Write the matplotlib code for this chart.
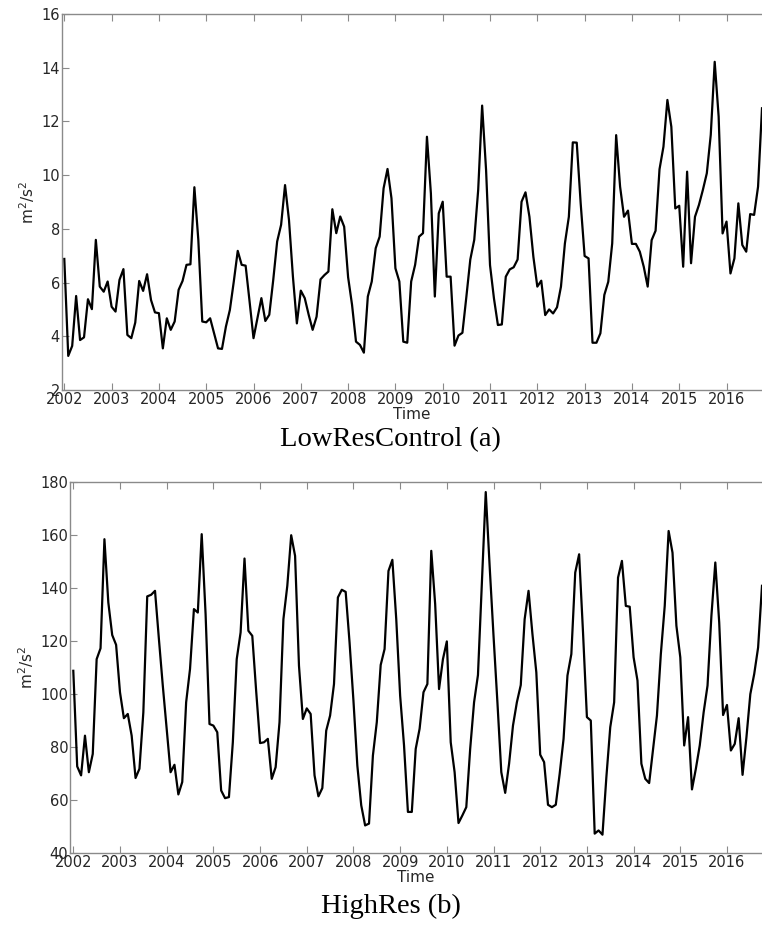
import numpy as np
import matplotlib
matplotlib.use('Agg')
import matplotlib.pylab as plt

# monthly means, Jan 2002 .. Oct 2016
low_res = [6.88, 3.27, 3.64, 5.50, 3.86, 3.96, 5.38, 5.01, 7.59, 5.85, 5.66, 6.04,
           5.10, 4.92, 6.10, 6.50, 4.05, 3.93, 4.51, 6.06, 5.69, 6.31, 5.35, 4.89,
           4.86, 3.55, 4.67, 4.24, 4.55, 5.73, 6.06, 6.66, 6.68, 9.55, 7.59, 4.55,
           4.52, 4.67, 4.11, 3.55, 3.53, 4.36, 4.98, 6.04, 7.18, 6.66, 6.63, 5.30,
           3.93, 4.67, 5.42, 4.57, 4.80, 6.09, 7.53, 8.15, 9.63, 8.33, 6.22, 4.48,
           5.70, 5.42, 4.80, 4.24, 4.73, 6.12, 6.28, 6.41, 8.73, 7.84, 8.46, 8.08,
           6.20, 5.17, 3.80, 3.68, 3.39, 5.48, 6.04, 7.28, 7.71, 9.51, 10.23, 9.14,
           6.53, 6.04, 3.80, 3.76, 6.04, 6.66, 7.71, 7.84, 11.43, 9.32, 5.48, 8.58,
           9.01, 6.22, 6.22, 3.65, 4.03, 4.13, 5.47, 6.86, 7.59, 9.45, 12.59, 10.19,
           6.65, 5.41, 4.42, 4.44, 6.22, 6.49, 6.57, 6.86, 9.01, 9.36, 8.45, 6.96,
           5.85, 6.07, 4.79, 5.00, 4.85, 5.08, 5.85, 7.46, 8.45, 11.22, 11.21, 8.95,
           6.99, 6.90, 3.76, 3.76, 4.11, 5.54, 6.03, 7.46, 11.49, 9.57, 8.45, 8.68,
           7.44, 7.44, 7.15, 6.59, 5.85, 7.58, 7.93, 10.22, 11.06, 12.80, 11.80, 8.76,
           8.86, 6.59, 10.13, 6.72, 8.45, 8.89, 9.45, 10.07, 11.50, 14.22, 12.18, 7.83,
           8.27, 6.34, 6.90, 8.95, 7.40, 7.15, 8.55, 8.52, 9.57, 12.49]

high_res = [108.7, 72.6, 69.2, 84.2, 70.4, 77.3, 113.1, 117.2, 158.4, 134.5, 122.2, 118.5,
            100.6, 90.8, 92.4, 84.2, 68.2, 71.7, 93.0, 136.8, 137.4, 138.9, 120.7, 103.1,
            86.8, 70.4, 73.2, 62.0, 66.7, 96.8, 109.4, 132.0, 130.7, 160.3, 130.1, 88.6,
            88.0, 85.5, 63.5, 60.6, 61.0, 81.7, 113.1, 123.2, 151.1, 123.8, 121.9, 101.0,
            81.4, 81.7, 83.0, 67.9, 72.3, 89.3, 128.2, 140.8, 159.9, 152.1, 110.6, 90.5,
            94.5, 92.4, 69.2, 61.3, 64.4, 86.1, 91.8, 103.7, 136.4, 139.3, 138.5, 119.4,
            97.4, 72.9, 57.9, 50.3, 51.0, 76.7, 89.3, 110.9, 116.9, 146.4, 150.6, 128.2,
            99.3, 80.5, 55.4, 55.4, 79.2, 86.8, 100.6, 103.7, 154.0, 133.9, 101.8, 113.1,
            119.8, 81.7, 70.4, 51.2, 54.1, 57.2, 79.2, 96.8, 107.1, 142.0, 176.2, 148.3,
            121.9, 96.8, 70.4, 62.6, 73.6, 88.0, 96.8, 103.3, 128.2, 138.9, 122.6, 108.1,
            77.0, 74.2, 58.1, 57.2, 58.1, 69.8, 83.0, 106.9, 115.0, 145.8, 152.7, 123.2,
            91.2, 89.9, 47.2, 48.4, 46.8, 68.5, 87.4, 96.8, 143.9, 150.2, 133.2, 132.9,
            113.8, 105.0, 73.6, 67.9, 66.3, 79.2, 91.8, 115.0, 133.2, 161.5, 153.3, 125.7,
            113.8, 80.5, 91.2, 63.9, 71.7, 80.5, 93.0, 103.1, 129.5, 149.6, 127.0, 92.0,
            95.8, 78.6, 81.1, 90.8, 69.4, 83.6, 99.9, 107.5, 117.5, 140.8]

years = list(range(2002, 2017))
low_yticks = [2, 4, 6, 8, 10, 12, 14, 16]
high_yticks = [40, 60, 80, 100, 120, 140, 160, 180]

t = 2002 + np.arange(len(low_res)) / 12.0

axis_grey = '#8a8a8a'
label_grey = '#262626'


def style_axes(ax, series, yticks, x0):
    ax.plot(t, series, color='black', lw=1.6)
    ax.set_xticks(years)
    ax.set_xticklabels([str(y) for y in years])
    ax.set_yticks(yticks)
    ax.set_ylim(yticks[0], yticks[-1])
    ax.set_xlim(x0, t[-1])
    ax.spines['right'].set_visible(False)
    for s in ['left', 'top', 'bottom']:
        ax.spines[s].set_color(axis_grey)
        ax.spines[s].set_linewidth(1.0)
    ax.tick_params(direction='in', length=5, width=0.8, color=axis_grey,
                   labelcolor=label_grey, labelsize=10.5, pad=1.5, top=True, right=False)
    ax.set_xlabel('Time', fontsize=11, color=label_grey, labelpad=0)
    ax.set_ylabel(r'm$^2$/s$^2$', fontsize=11, color=label_grey, labelpad=3)


fig = plt.figure(figsize=(7.62, 9.34), dpi=100)

ax1 = fig.add_axes([62 / 762, 1 - 390 / 934, 700 / 762, 376 / 934])
style_axes(ax1, low_res, low_yticks, 2002 - 2.3 / 47.3)

ax2 = fig.add_axes([70.3 / 762, 1 - 852.7 / 934, 691.7 / 762, 370.7 / 934])
style_axes(ax2, high_res, high_yticks, 2002 - 3.0 / 46.7)

fig.text(390 / 762, 1 - 446 / 934, 'LowResControl (a)', ha='center', va='baseline',
         family='Liberation Serif', fontsize=20.5)
fig.text(391 / 762, 1 - 913 / 934, 'HighRes (b)', ha='center', va='baseline',
         family='Liberation Serif', fontsize=20.5)

fig.savefig('out.png', dpi=100)
